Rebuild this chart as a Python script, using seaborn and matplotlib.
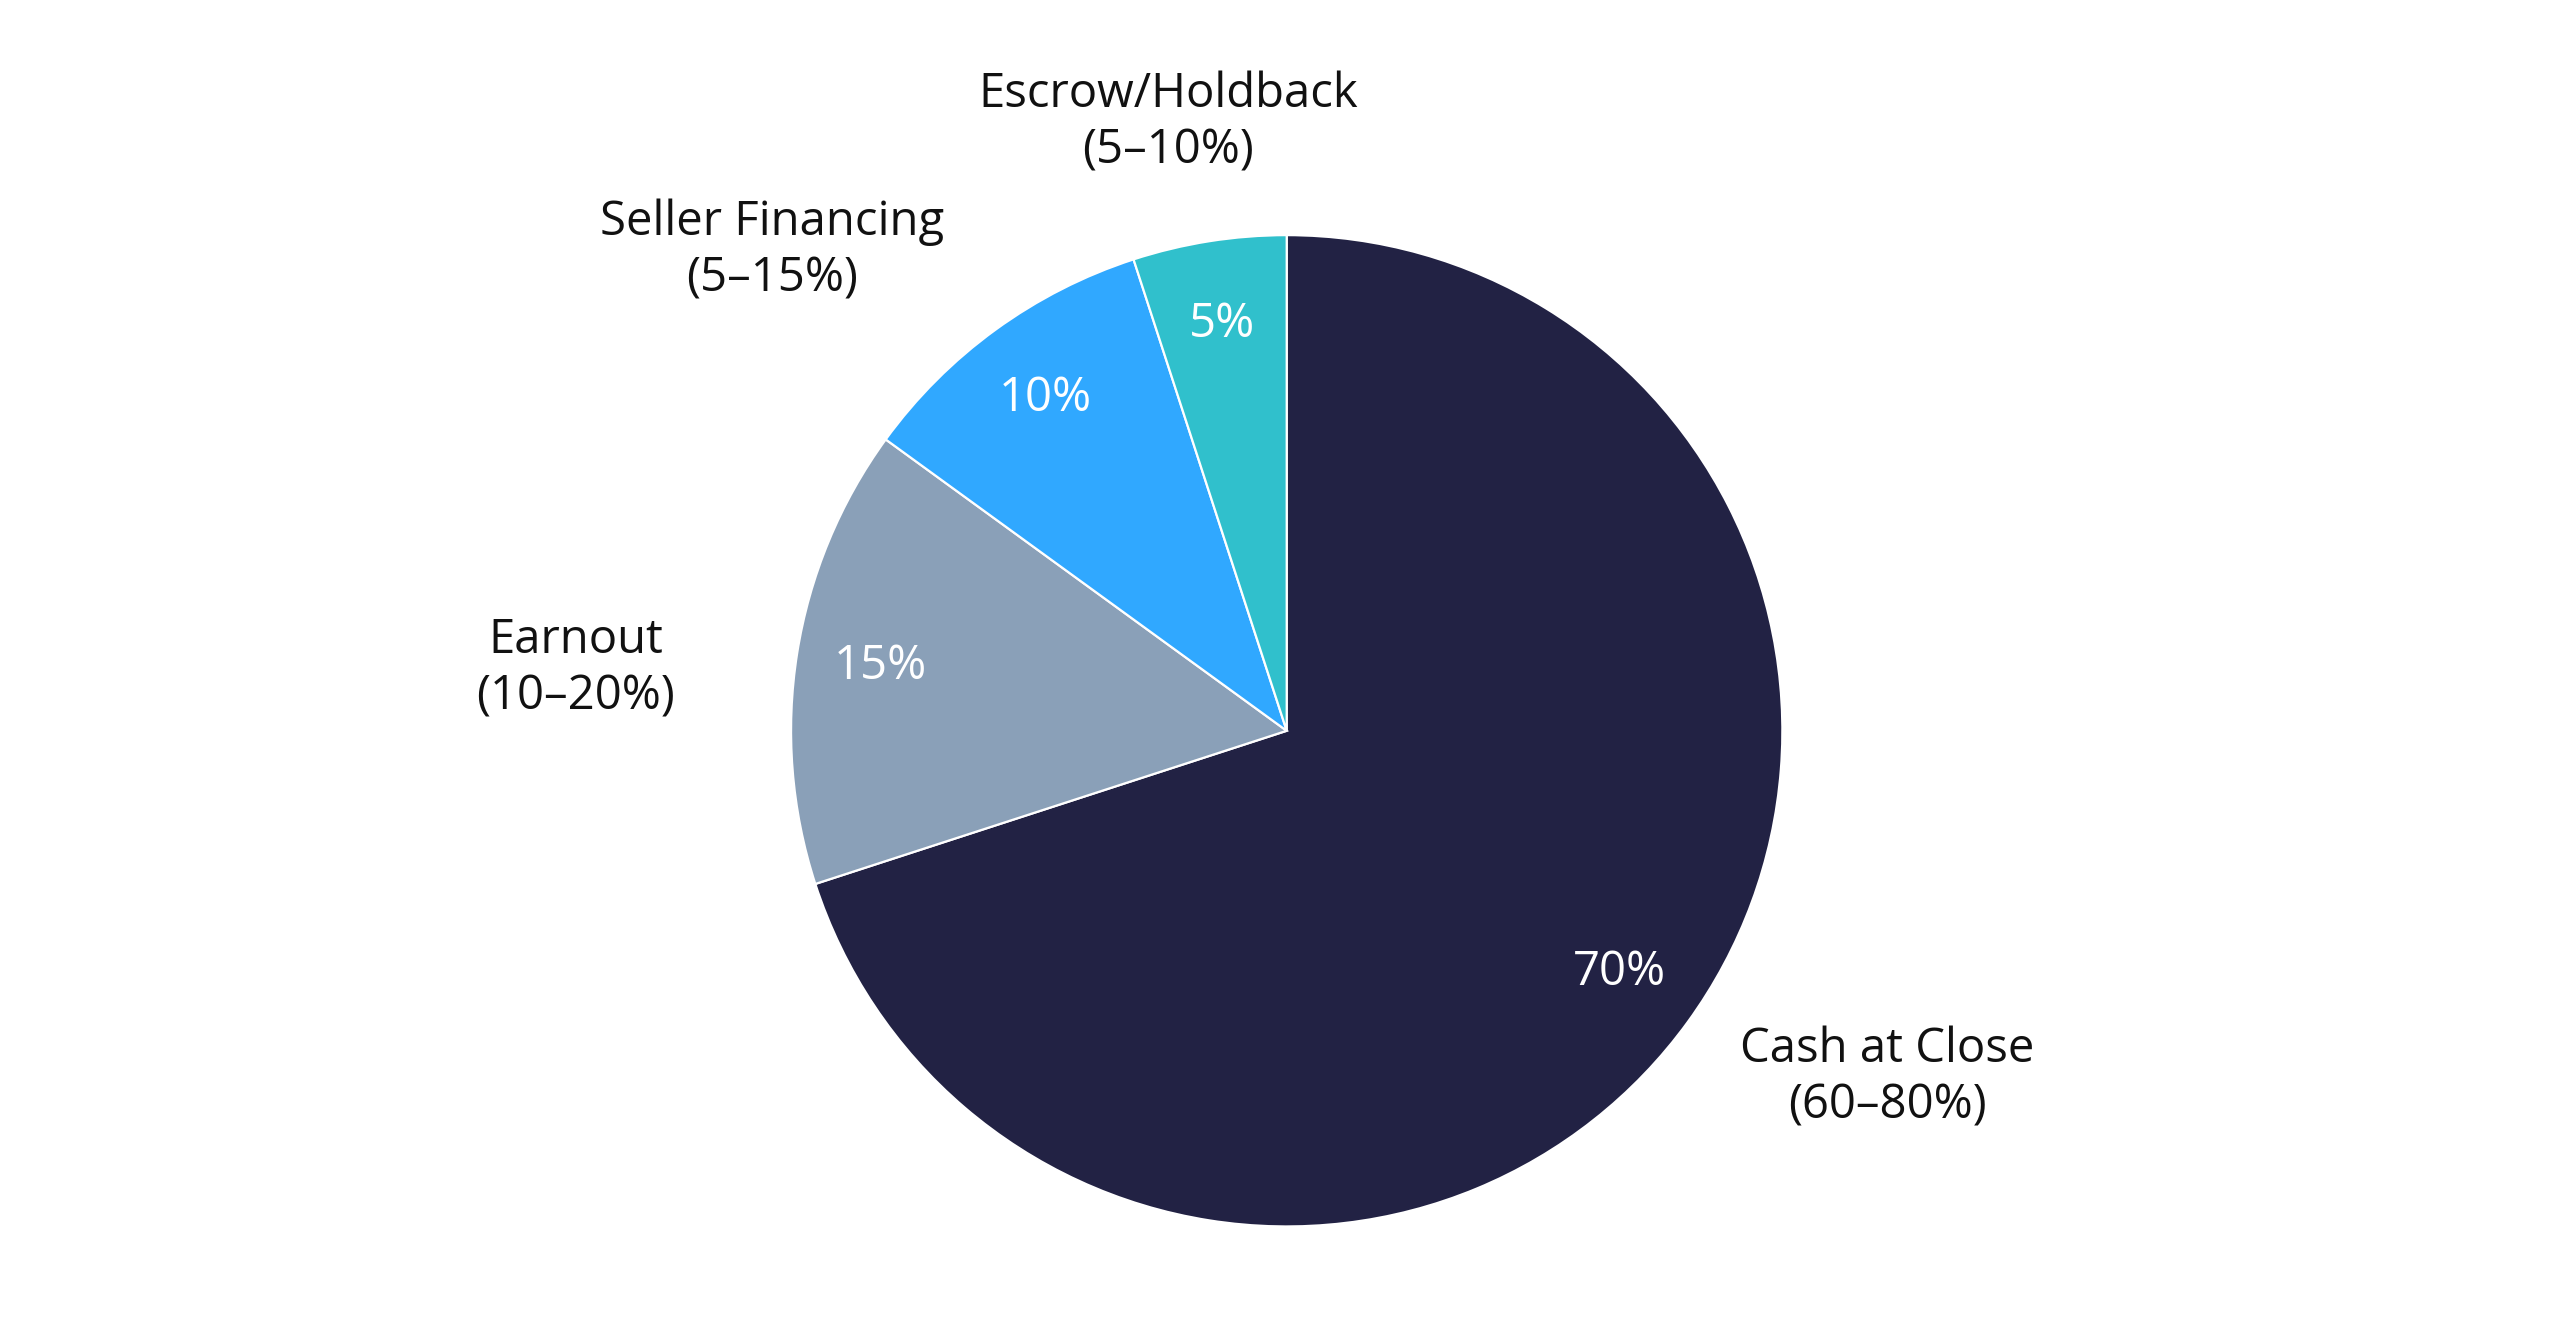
import numpy as np
import matplotlib
matplotlib.use("Agg")
import matplotlib.pyplot as plt
import seaborn as sns

# ── data ────────────────────────────────────────────────
categories = ["Cash at Close", "Earnout", "Seller Financing", "Escrow/Holdback"]
ranges = ["(60–80%)", "(10–20%)", "(5–15%)", "(5–10%)"]
shares = [70, 15, 10, 5]
colors = ["#222244", "#8AA0B8", "#30A8FF", "#30C0CC"]

# label placement (radius in pie units, angle shift in degrees)
label_r = [1.40, 1.44, 1.42, 1.25]
label_shift = [6, 4, 11, 2]

sns.set_theme(style="white")
plt.rcParams["font.family"] = ["Open Sans", "DejaVu Sans"]

fig = plt.figure(figsize=(12.88, 6.68), dpi=200)
ax = fig.add_axes([0.307, 0.082, 0.385, 0.742])

wedges, _, autotexts = ax.pie(
    shares, colors=colors, startangle=90, counterclock=False,
    autopct="%d%%", pctdistance=0.83,
    wedgeprops=dict(edgecolor="white", linewidth=0.8),
    textprops=dict(color="white", fontsize=17),
)
ax.set_xlim(-1, 1)
ax.set_ylim(-1, 1)
ax.set_aspect("equal")
ax.axis("off")

for w, name, rng, r, sh in zip(wedges, categories, ranges, label_r, label_shift):
    mid = np.deg2rad((w.theta1 + w.theta2) / 2 + sh)
    ax.text(r * np.cos(mid), r * np.sin(mid), f"{name}\n{rng}",
            ha="center", va="center", fontsize=17, color="#111111",
            linespacing=1.25, clip_on=False)

fig.savefig("out.png", dpi=200, facecolor="white")
